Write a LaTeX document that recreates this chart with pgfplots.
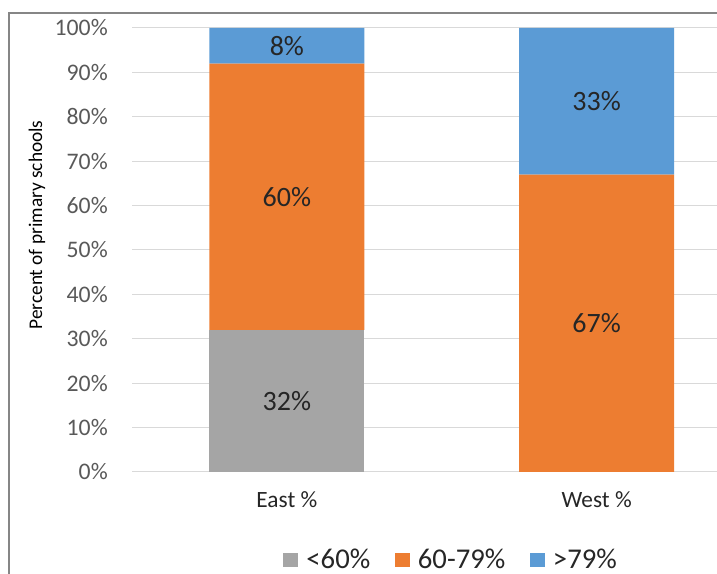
\documentclass[border=0pt]{standalone}
\usepackage{pgfplots}
\pgfplotsset{compat=1.18}
\usepackage{fontspec}
\setmainfont{Carlito}
\definecolor{cgray}{HTML}{A5A5A5}
\definecolor{corange}{HTML}{ED7D31}
\definecolor{cblue}{HTML}{5B9BD5}
\definecolor{cgrid}{HTML}{D9D9D9}
\definecolor{ctick}{HTML}{595959}
\definecolor{ctext}{HTML}{262626}
\definecolor{cframe}{HTML}{868686}
\begin{document}
\begin{tikzpicture}[x=0.75pt,y=0.75pt]
\useasboundingbox (-132,-102) rectangle (585,472);
\clip (-132,-102) rectangle (585,472);
\draw[cframe, line width=0.9pt] (-123,-110) -- (-123,459) -- (600,459);
\node[rotate=90, font=\fontsize{14.5}{17}\selectfont, text=black] at (-95,247) {Percent of primary schools};
\begin{axis}[
  at={(0,0)}, anchor=south west,
  scale only axis, width=464.6pt, height=333pt,
  xmin=-0.5, xmax=1.5, ymin=0, ymax=100,
  ybar stacked, bar width=0.5,
  axis line style={draw=none},
  major tick length=0pt,
  xtick={0,1}, xticklabels={East \%, West \%},
  ytick={0,10,...,100},
  yticklabel={\pgfmathprintnumber{\tick}\%},
  /pgf/number format/assume math mode=true,
  yticklabel style={anchor=east, inner sep=0pt, xshift=-18pt, font=\fontsize{17.8}{20}\selectfont, text=ctick},
  xticklabel style={anchor=base, inner sep=0pt, yshift=-27pt, font=\fontsize{17.5}{20}\selectfont, text=ctext},
  ymajorgrids, major grid style={cgrid, line width=0.75pt},
  clip=false,
  legend style={at={(0.5157,-0.198)}, anchor=center, draw=none, fill=none,
    legend columns=-1, font=\fontsize{21.5}{24}\selectfont, text=ctext,
    /tikz/every odd column/.append style={column sep=4pt},
    /tikz/every even column/.append style={column sep=16.5pt}},
  legend image code/.code={\fill[#1] (0pt,-5pt) rectangle (11.25pt,5.5pt);},
]
\addplot[fill=cgray, draw=none] coordinates {(0,32) (1,0)};
\addlegendentry{<60\%}
\addplot[fill=corange, draw=none] coordinates {(0,60) (1,67)};
\addlegendentry{60-79\%}
\addplot[fill=cblue, draw=none] coordinates {(0,8) (1,33)};
\addlegendentry{>79\%}
\end{axis}
\begin{axis}[
  at={(0,0)}, anchor=south west,
  scale only axis, width=464.6pt, height=333pt,
  xmin=-0.5, xmax=1.5, ymin=0, ymax=100,
  hide axis, clip=false,
]
\addplot[only marks, mark=none,
  nodes near coords, point meta=explicit symbolic,
  every node near coord/.style={anchor=center, font=\fontsize{21}{24}\selectfont, text=ctext}]
  coordinates {(0,16)[32\%] (0,62)[60\%] (0,96)[8\%] (1,33.5)[67\%] (1,83.5)[33\%]};
\end{axis}
\end{tikzpicture}
\end{document}
